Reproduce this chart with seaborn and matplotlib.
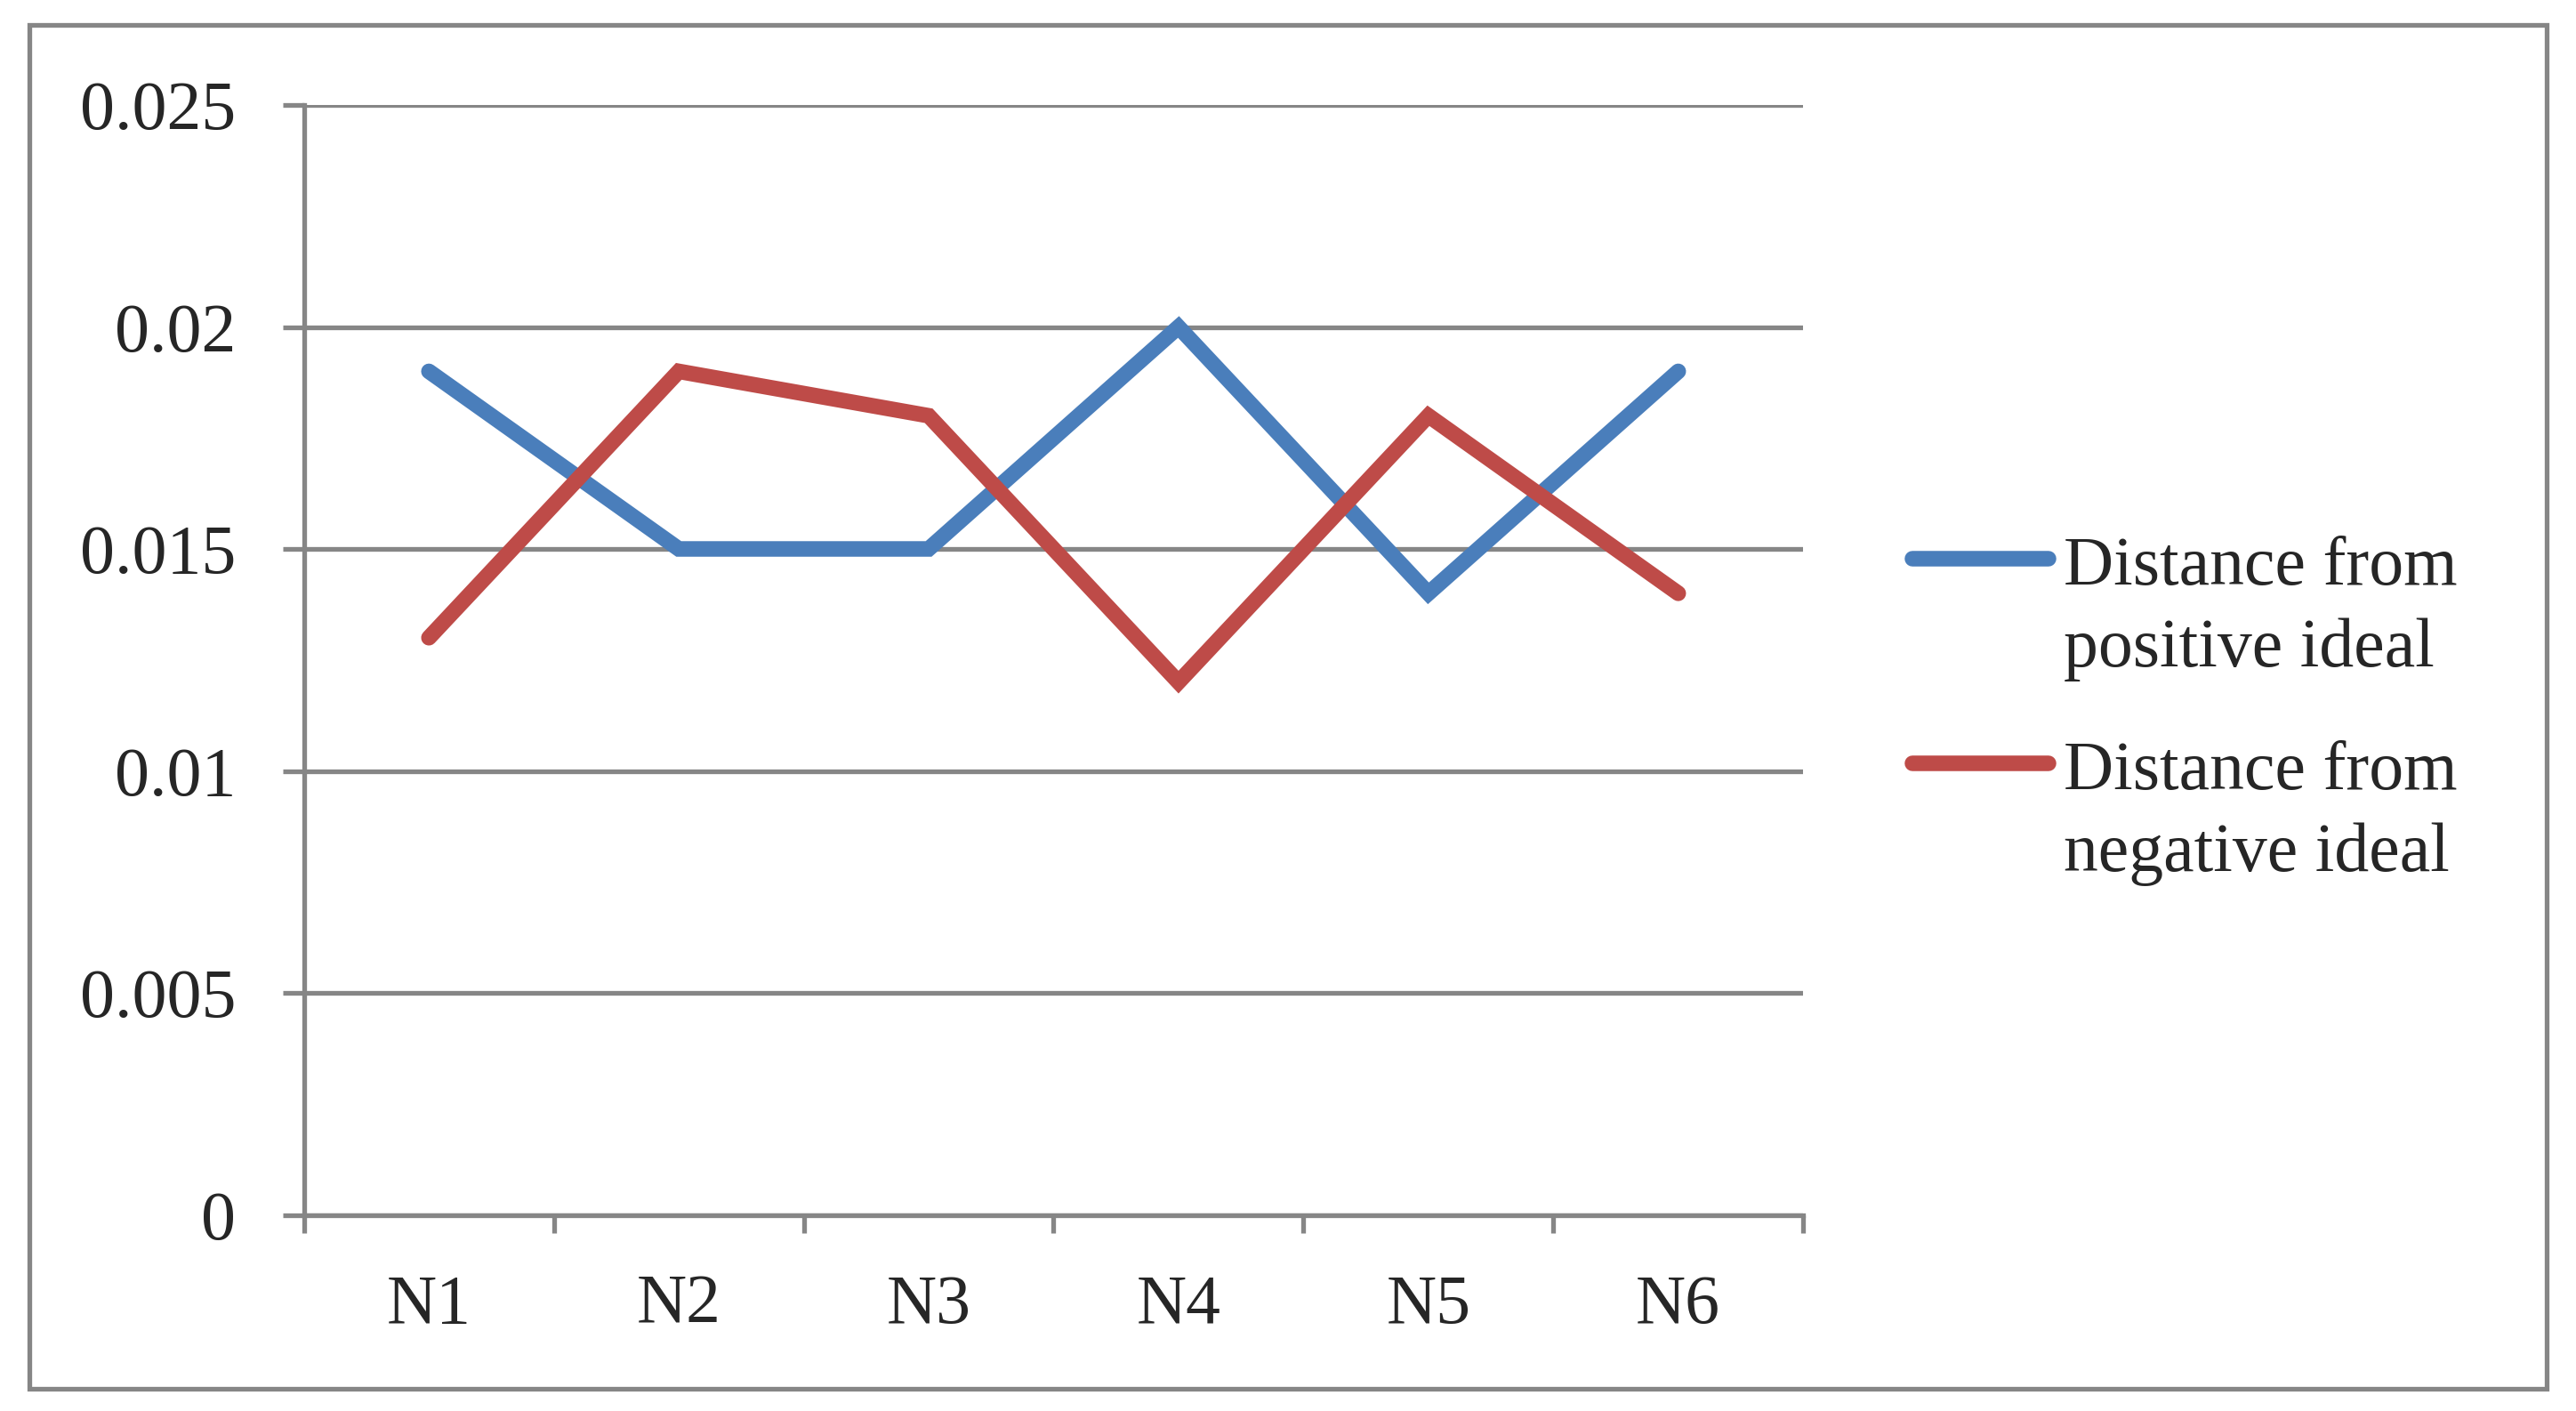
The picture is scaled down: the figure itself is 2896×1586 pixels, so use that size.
import matplotlib
matplotlib.use("Agg")
import matplotlib.pyplot as plt
import seaborn as sns
import pandas as pd
import numpy as np
from matplotlib.legend_handler import HandlerLine2D
from matplotlib.patches import Rectangle

categories = ["N1", "N2", "N3", "N4", "N5", "N6"]
pos_ideal = [0.019, 0.015, 0.015, 0.020, 0.014, 0.019]
neg_ideal = [0.013, 0.019, 0.018, 0.012, 0.018, 0.014]
series_names = ["Distance from\npositive ideal", "Distance from\nnegative ideal"]
y_ticks = [0, 0.005, 0.01, 0.015, 0.02, 0.025]

df = pd.DataFrame({
    "idx": list(range(len(categories))) * 2,
    "value": pos_ideal + neg_ideal,
    "series": [series_names[0]] * 6 + [series_names[1]] * 6,
})

sns.set_style("white")
plt.rcParams["font.family"] = ["Liberation Serif", "DejaVu Serif"]

GRAY = "#868686"
LW = 6.3
palette = {series_names[0]: "#4A7EBB", series_names[1]: "#BE4B48"}

fig = plt.figure(figsize=(14.48, 7.93), dpi=200)
ax = fig.add_axes([0.118, 0.139, 0.700 - 0.118, 0.9256 - 0.139])

sns.lineplot(data=df, x="idx", y="value", hue="series", palette=palette,
             linewidth=LW, ax=ax, legend=False, zorder=3)
for ln in ax.get_lines():
    ln.set_solid_capstyle("round")
    ln.set_solid_joinstyle("miter")

ax.set_xlim(-0.5, len(categories) - 0.5)
ax.set_ylim(0, 0.025)
ax.set_yticks(y_ticks)
ax.set_yticklabels([f"{v:g}" for v in y_ticks], fontsize=28)
ax.yaxis.grid(True, color=GRAY, linewidth=1.9)
ax.set_axisbelow(True)

ax.set_xticks(np.arange(-0.5, len(categories), 1.0))
ax.set_xticklabels([])
ax.set_xticks(range(len(categories)), minor=True)
ax.set_xticklabels(categories, minor=True, fontsize=28)
ax.tick_params(axis="x", which="major", direction="out", length=7.2, width=1.9, color=GRAY)
ax.tick_params(axis="x", which="minor", length=0, pad=24)
ax.tick_params(axis="y", direction="out", length=8.6, width=1.9, color=GRAY, pad=19)
ax.tick_params(left=True, bottom=True)

for s in ["top", "right"]:
    ax.spines[s].set_visible(False)
for s in ["left", "bottom"]:
    ax.spines[s].set_color(GRAY)
    ax.spines[s].set_linewidth(1.9)
ax.set_xlabel("")
ax.set_ylabel("")


class TopLineHandler(HandlerLine2D):
    # put the legend line next to the first text line, as Excel does
    def create_artists(self, legend, orig_handle, xdescent, ydescent,
                       width, height, fontsize, trans):
        arts = super().create_artists(legend, orig_handle, xdescent, ydescent,
                                      width, height, fontsize, trans)
        y = (height - ydescent) / 2 + 0.72 * fontsize
        for a in arts:
            a.set_ydata(np.full(len(a.get_xdata()), y))
        return arts


handles = [plt.Line2D([], [], color=palette[n], linewidth=LW,
                      solid_capstyle="round") for n in series_names]
leg = fig.legend(handles, series_names, loc="center left",
                 bbox_to_anchor=(0.7425, 0.496), frameon=False, fontsize=28,
                 handlelength=1.96, handletextpad=0.22, borderpad=0,
                 borderaxespad=0, labelspacing=0.85,
                 handler_map={plt.Line2D: TopLineHandler()})
for t in leg.get_texts():
    t.set_linespacing(1.38)

fig.patches.append(Rectangle((33 / 2896, 1 - 1561 / 1586),
                             (2863 - 33) / 2896, (1561 - 28) / 1586,
                             transform=fig.transFigure, fill=False,
                             edgecolor=GRAY, linewidth=1.9, zorder=0))

fig.savefig("out.png", dpi=200)
